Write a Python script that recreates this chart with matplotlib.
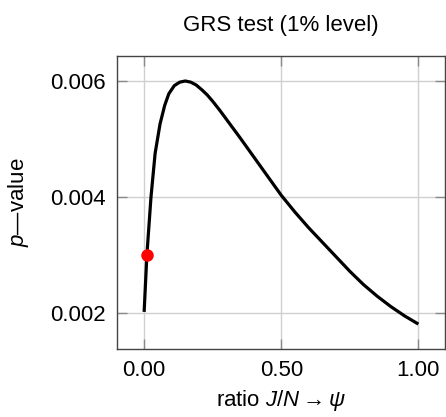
import matplotlib
matplotlib.use("Agg")
import matplotlib.pyplot as plt

# p-value of the GRS test against the ratio psi = J/N
ratio = [0.0, 0.01, 0.025, 0.04, 0.058, 0.075, 0.09, 0.11, 0.13, 0.15, 0.17,
         0.19, 0.21, 0.23, 0.25, 0.275, 0.30, 0.35, 0.40, 0.45, 0.50, 0.55,
         0.60, 0.65, 0.70, 0.75, 0.80, 0.85, 0.90, 0.95, 1.00]
p_value = [0.00202, 0.00300, 0.00400, 0.00475, 0.00526, 0.00558, 0.00578,
           0.00592, 0.00598, 0.00600, 0.00598, 0.00593, 0.00585, 0.00576,
           0.00565, 0.00550, 0.00534, 0.00502, 0.00469, 0.00436, 0.00403,
           0.00374, 0.00347, 0.00322, 0.00297, 0.00272, 0.00249, 0.00229,
           0.00211, 0.00195, 0.00181]

# highlighted point
point_x = [0.01]
point_y = [0.0030]

x_ticks = [0.0, 0.5, 1.0]
x_tick_labels = ["0.00", "0.50", "1.00"]
y_ticks = [0.002, 0.004, 0.006]
y_tick_labels = ["0.002", "0.004", "0.006"]

plt.rcParams["font.family"] = ["Liberation Sans", "DejaVu Sans"]
plt.rcParams["mathtext.fontset"] = "custom"
plt.rcParams["mathtext.rm"] = "Liberation Sans"
plt.rcParams["mathtext.sf"] = "Liberation Sans"
plt.rcParams["mathtext.it"] = "Liberation Sans:italic"

fig = plt.figure(figsize=(4.46, 4.17), dpi=100)
ax = fig.add_axes([0.2623, 0.163, 0.7354, 0.7026])

ax.plot(ratio, p_value, color="black", lw=2.3, solid_joinstyle="round",
        solid_capstyle="butt", zorder=3)
ax.plot(point_x, point_y, "o", color="#ff0000", ms=9, mec="none", zorder=4)

ax.set_xlim(-0.099, 1.097)
ax.set_ylim(0.00138, 0.00643)
ax.set_xticks(x_ticks)
ax.set_xticklabels(x_tick_labels)
ax.set_yticks(y_ticks)
ax.set_yticklabels(y_tick_labels)

ax.grid(True, color="#d0d0d0", lw=1.0)
ax.set_axisbelow(True)
ax.tick_params(direction="in", length=7, width=1, color="#8a8a8a",
               top=True, right=True, labelsize=16, pad=8)
for s in ax.spines.values():
    s.set_color("#444444")
    s.set_linewidth(1.0)

ax.set_title("GRS test (1% level)", fontsize=16, pad=18)
ax.set_xlabel(r"ratio $J/N \rightarrow \psi$", fontsize=16, labelpad=5)
ax.set_ylabel("$p$\u2014value", fontsize=16, labelpad=14)

fig.savefig("out.png", dpi=100)
